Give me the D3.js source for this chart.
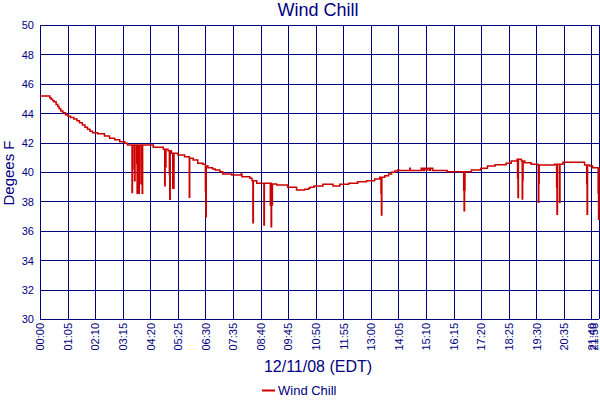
<!DOCTYPE html>
<html>
<head>
<meta charset="utf-8">
<script src="https://cdn.jsdelivr.net/npm/d3@7/dist/d3.min.js"></script>
<style>
  html, body { margin: 0; padding: 0; background: #fff; }
  svg { display: block; font-family: "Liberation Sans", Arial, sans-serif; }
</style>
</head>
<body>
<svg id="chart" width="600" height="400"></svg>
<script>
// ---- Data (minutes after midnight, degrees F) ----
const xTickLabels = ["00:00","01:05","02:10","03:15","04:20","05:25","06:30","07:35","08:40","09:45",
  "10:50","11:55","13:00","14:05","15:10","16:15","17:20","18:25","19:30","20:35","21:40","21:58"];
const yTickLabels = [30,32,34,36,38,40,42,44,46,48,50];

// main (stepped) wind chill readings
const mainTimes = [0,23,26,30,33,38,42,45,49,54,60,66,72,80,87,93,100,106,112,118,124,136,152,164,176,188,200,206,
  267,291,302,310,325,341,353,361,372,384,391,396,407,413,424,431,452,474,476,495,500,511,546,558,584,605,624,633,
  637,646,667,691,707,728,749,770,789,801,813,822,829,836,843,846,872,873,899,903,906,910,914,918,921,926,960,
  1017,1039,1055,1073,1099,1111,1125,1135,1143,1158,1174,1213,1233,1284,1296,1303,1318];
const mainValues = [45.17,45.05,44.95,44.85,44.78,44.6,44.45,44.3,44.15,44.03,43.9,43.8,43.7,43.6,43.49,43.35,43.2,43.05,
  42.9,42.78,42.67,42.6,42.45,42.3,42.2,42.06,41.95,41.84,
  41.68,41.55,41.45,41.27,41.16,41.04,40.93,40.82,40.6,40.52,40.4,40.29,40.2,40.14,40.02,39.86,39.8,39.86,39.68,39.57,
  39.41,39.23,39.18,39.12,38.96,38.78,38.82,38.89,
  38.96,39.05,39.16,39.05,39.16,39.23,39.34,39.41,39.52,39.64,39.75,39.86,39.98,40.07,40.14,40.1,40.25,40.1,40.25,40.1,
  40.25,40.15,40.25,40.12,40.25,40.1,40.02,
  40.14,40.25,40.4,40.5,40.59,40.75,40.86,40.75,40.63,40.52,40.48,40.52,40.66,40.48,40.41,40.29,40.29];

// momentary dips (single readings)
const spikeTimes = [217,218,223,228,229,233,238,239,241,294,296,305,306,313,314,315,352,390,391,
  502,528,543,545,547,804,805,999,1000,1001,1126,1127,1137,1138,1175,1176,1218,1219,1225,1289,1290,1316,1317];
const spikeValues = [38.6,40.2,39.4,40.6,38.55,38.55,39.2,40.0,38.55,39.07,40.36,39.84,38.14,38.89,38.89,38.89,38.28,38.73,36.96,
  36.55,36.39,37.76,36.28,37.76,38.55,37.07,38.78,37.37,38.78,39.57,38.27,38.16,39.45,37.94,39.25,39.0,37.12,37.94,39.2,37.12,38.57,36.78];

// ---- Layout ----
const svg = d3.select("#chart");
const navy = "#000080", red = "#cc0000";
const x = d3.scaleLinear().domain([0, 1318]).range([40, 599]);
const y = d3.scaleLinear().domain([30, 50]).range([319, 25]);

const toMin = s => { const p = s.split(":"); return +p[0] * 60 + +p[1]; };
const xTicks = xTickLabels.map(toMin);

// grid + axes
const gx = svg.append("g").attr("transform", "translate(0,319)")
  .call(d3.axisBottom(x).tickValues(xTicks).tickFormat((d, i) => xTickLabels[i]).tickSize(-294).tickSizeOuter(0));
gx.select(".domain").remove();
gx.selectAll(".tick line").attr("stroke", navy).attr("stroke-width", 1).attr("shape-rendering", "crispEdges");
gx.selectAll(".tick text")
  .attr("transform", "rotate(-90)")
  .attr("x", -4).attr("y", (d, i) => i === xTickLabels.length - 1 ? -5.5 : 0).attr("dy", "0.35em")
  .attr("text-anchor", "end")
  .attr("fill", navy).attr("font-size", 11)
  .attr("font-family", "'Liberation Sans', Arial, sans-serif");

const gy = svg.append("g").attr("transform", "translate(40,0)")
  .call(d3.axisLeft(y).tickValues(yTickLabels).tickFormat(d3.format("d")).tickSize(-559).tickSizeOuter(0));
gy.select(".domain").remove();
gy.selectAll(".tick line").attr("stroke", navy).attr("stroke-width", 1).attr("shape-rendering", "crispEdges");
gy.selectAll(".tick text")
  .attr("x", -6).attr("dy", "0.35em")
  .attr("fill", navy).attr("font-size", 11)
  .attr("font-family", "'Liberation Sans', Arial, sans-serif");

// ---- series: main readings merged with dips ----
const mainPts = mainTimes.map((t, i) => ({ t, v: mainValues[i] }));
const baseAt = t => { let v = mainPts[0].v; for (const p of mainPts) { if (p.t <= t) v = p.v; else break; } return v; };
const map = new Map();
mainPts.forEach(p => map.set(p.t, p.v));
const spikeSet = new Set(spikeTimes);
spikeTimes.forEach(t => { if (!spikeSet.has(t + 1) && !map.has(t + 1)) map.set(t + 1, baseAt(t + 1)); });
spikeTimes.forEach((t, i) => map.set(t, spikeValues[i]));
const series = Array.from(map, ([t, v]) => ({ t, v })).sort((a, b) => a.t - b.t);

const line = d3.line().x(d => x(d.t)).y(d => y(d.v)).curve(d3.curveStepAfter);
svg.append("path").datum(series)
  .attr("d", line).attr("fill", "none").attr("stroke", red).attr("stroke-width", 1.5);

// ---- titles ----
svg.append("text").attr("x", 318).attr("y", 16).attr("text-anchor", "middle")
  .attr("fill", navy).attr("font-size", 18).text("Wind Chill");
svg.append("text").attr("x", 318).attr("y", 372).attr("text-anchor", "middle")
  .attr("fill", navy).attr("font-size", 16).text("12/11/08 (EDT)");
svg.append("text").attr("transform", "translate(14,173) rotate(-90)").attr("text-anchor", "middle")
  .attr("fill", navy).attr("font-size", 15).text("Degees F");

// legend
const lg = svg.append("g");
lg.append("line").attr("x1", 262).attr("x2", 275).attr("y1", 390.5).attr("y2", 390.5)
  .attr("stroke", red).attr("stroke-width", 2);
lg.append("text").attr("x", 278).attr("y", 395).attr("fill", navy).attr("font-size", 13).text("Wind Chill");
</script>
</body>
</html>
